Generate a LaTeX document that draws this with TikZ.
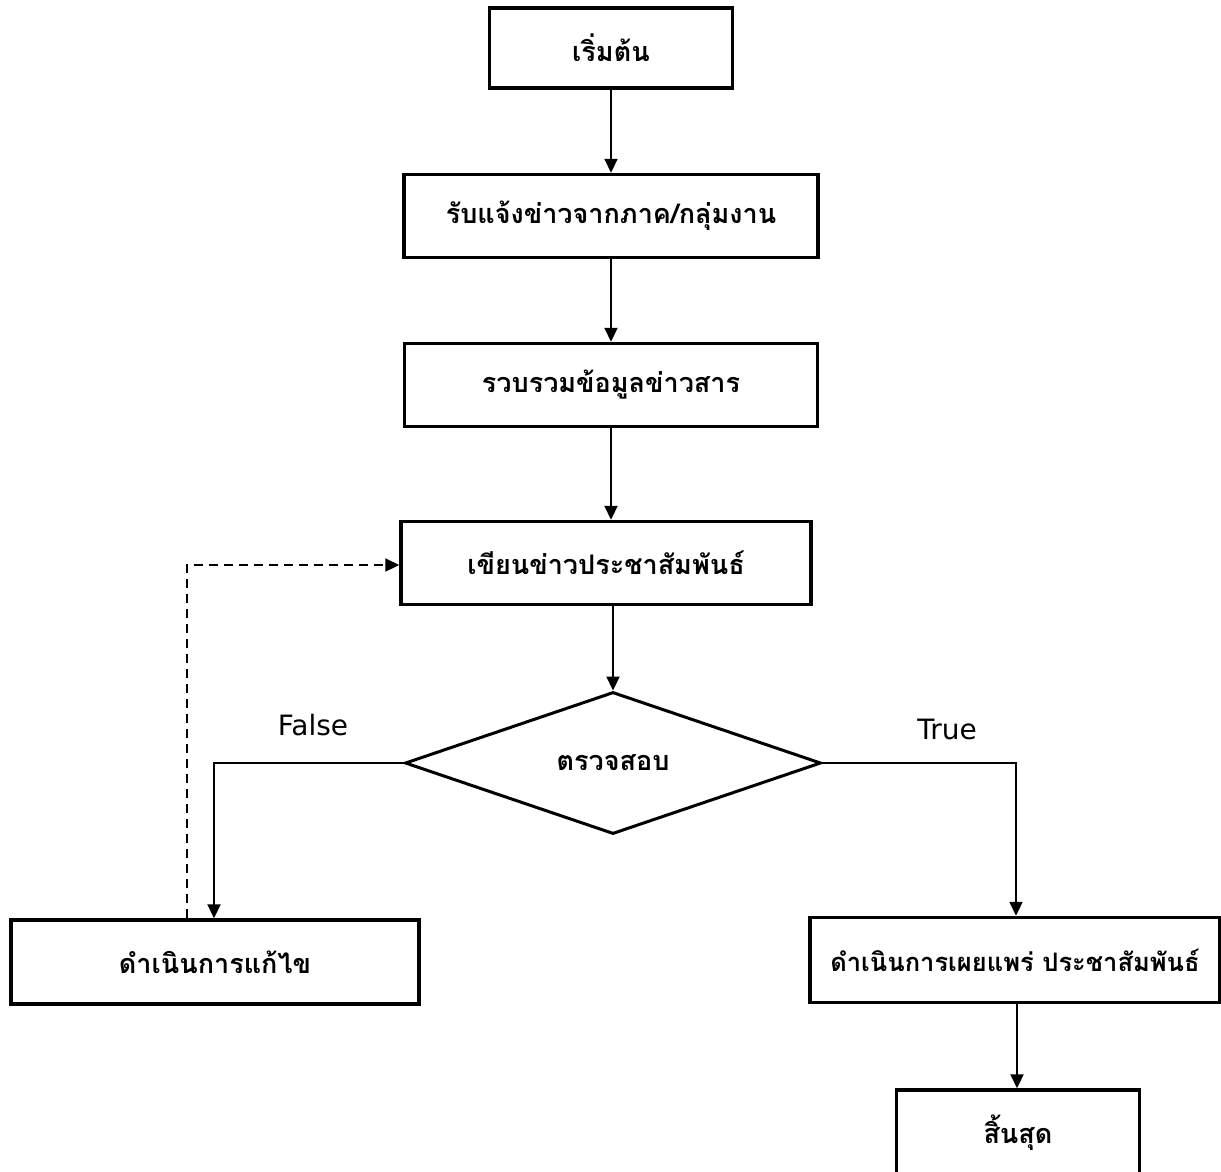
\documentclass[tikz,border=0pt]{standalone}
\usepackage{fontspec}
\newfontfamily\thaifont[Script=Thai]{Loma}
\newfontfamily\latinfont{DejaVu Sans}
\usetikzlibrary{arrows.meta,shapes.geometric}
\tikzset{
  box/.style={draw, line width=3.5pt, rectangle, inner sep=0pt, font=\thaifont\bfseries\fontsize{27}{31}\selectfont, text=black},
  decision/.style={draw, line width=3pt, diamond, inner sep=0pt, font=\thaifont\bfseries\fontsize{27}{31}\selectfont},
  conn/.style={line width=2.2pt, -{Triangle[length=14pt,width=13pt]}},
  dashconn/.style={line width=2.2pt, dash pattern=on 9pt off 6pt, -{Triangle[length=14pt,width=13pt]}},
  lbl/.style={font=\latinfont\fontsize{28}{32}\selectfont}
}
\begin{document}
\begin{tikzpicture}[x=1pt,y=-1pt]
\useasboundingbox (0,0) rectangle (1221,1171);
\node[box, minimum width=243pt, minimum height=80pt] (start) at (611,48) {เริ่มต้น};
\node[box, minimum width=414pt, minimum height=83pt] (recv) at (611,216) {รับแจ้งข่าวจากภาค/กลุ่มงาน};
\node[box, minimum width=413pt, minimum height=83pt] (coll) at (611,385) {รวบรวมข้อมูลข่าวสาร};
\node[box, minimum width=410pt, minimum height=83pt] (write) at (606,563) {เขียนข่าวประชาสัมพันธ์};
\node[decision, minimum width=416pt, minimum height=142pt] (check) at (613,763) {ตรวจสอบ};
\node[box, minimum width=408pt, minimum height=84pt] (fix) at (215,962) {ดำเนินการแก้ไข};
\node[box, minimum width=410pt, minimum height=85pt, font=\thaifont\bfseries\fontsize{25.5}{29}\selectfont] (pub) at (1015,960) {ดำเนินการเผยแพร่ ประชาสัมพันธ์};
\node[box, minimum width=243pt, minimum height=90pt] (end) at (1018,1135) {};
\node[font=\thaifont\bfseries\fontsize{27}{31}\selectfont] (endtxt) at (1018,1133) {สิ้นสุด};

\draw[conn] (start.south) -- (recv.north);
\draw[conn] (recv.south) -- (coll.north);
\draw[conn] (coll.south) -- (write.north -| coll.south);
\draw[conn] (write.south -| check.north) -- (check.north);
\coordinate (fl) at (214,763);
\coordinate (tr) at (1016,763);
\draw[conn] (check.west) -- (fl) -- (fix.north -| fl);
\draw[conn] (check.east) -- (tr) -- (pub.north -| tr);
\draw[conn] (pub.south -| 1017,0) -- (end.north -| 1017,0);
\coordinate (dc) at (187,565);
\draw[dashconn] (fix.north -| dc) -- (dc) -- (write.west |- dc);
\node[lbl] (false) at (313,725) {False};
\node[lbl] (true) at (947,729) {True};
\end{tikzpicture}
\end{document}
